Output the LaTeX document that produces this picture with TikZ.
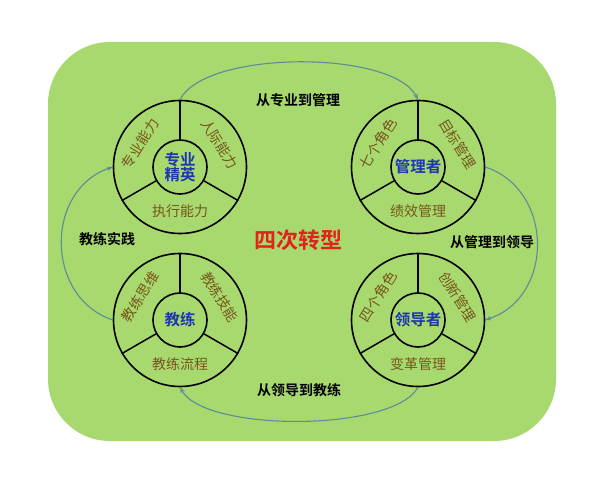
\documentclass[tikz,border=0pt]{standalone}
\usepackage{fontspec}
\setmainfont{Noto Sans CJK SC}[BoldFont={Noto Sans CJK SC Bold}]
\usetikzlibrary{arrows.meta}
\definecolor{panel}{HTML}{A8D96F}
\definecolor{coreblue}{HTML}{1F36B2}
\definecolor{partbrown}{HTML}{76561C}
\definecolor{arcblue}{HTML}{5E8C96}
\definecolor{turnred}{HTML}{E2231A}

\begin{document}
\begin{tikzpicture}[x=1pt,y=1pt,
ring/.style={circle,draw,line width=1.6pt,minimum size=133pt,inner sep=0pt},
core/.style={circle,draw,line width=1.6pt,minimum size=54pt,inner sep=0pt,
  align=center,text=coreblue,font=\bfseries\fontsize{15.5}{17}\selectfont},
sector/.style={text=partbrown,inner sep=0pt,font=\fontsize{14}{15}\selectfont},
divider/.style={line width=1.5pt},
turn/.style={draw=arcblue,line width=1.1pt,-{Stealth[length=6pt,width=4.5pt]}},
phase/.style={font=\bfseries\fontsize{14}{15}\selectfont}]
\useasboundingbox (0,0) rectangle (600,480);
\fill[panel,rounded corners=62pt] (48,39) rectangle (556,438);

% the four rings
\node[ring] (rzy) at (180,313) {};
\node[core] (zy) at (rzy.center) {专业\\[-2pt]精英};
\node[ring] (rgl) at (418,313) {};
\node[core] (gl) at (rgl.center) {管理者};
\node[ring] (rjl) at (180,160) {};
\node[core] (jl) at (rjl.center) {教练};
\node[ring] (rld) at (418,160) {};
\node[core] (ld) at (rld.center) {领导者};

\foreach \m in {zy,gl,jl,ld}
  \foreach \a in {90,210,330}
    \draw[divider] (\m.\a) -- (r\m.\a);

% sector texts
\node[sector,rotate=58] (zy1) at ([shift={(150:46)}]rzy.center) {专业能力};
\node[sector,rotate=-58] (zy2) at ([shift={(30:46)}]rzy.center) {人际能力};
\node[sector] (zy3) at ([shift={(270:44)}]rzy.center) {执行能力};
\node[sector,rotate=58] (gl1) at ([shift={(150:46)}]rgl.center) {七个角色};
\node[sector,rotate=-58] (gl2) at ([shift={(30:46)}]rgl.center) {目标管理};
\node[sector] (gl3) at ([shift={(270:44)}]rgl.center) {绩效管理};
\node[sector,rotate=58] (jl1) at ([shift={(150:46)}]rjl.center) {教练思维};
\node[sector,rotate=-58] (jl2) at ([shift={(30:46)}]rjl.center) {教练技能};
\node[sector] (jl3) at ([shift={(270:44)}]rjl.center) {教练流程};
\node[sector,rotate=58] (ld1) at ([shift={(150:46)}]rld.center) {四个角色};
\node[sector,rotate=-58] (ld2) at ([shift={(30:46)}]rld.center) {创新管理};
\node[sector] (ld3) at ([shift={(270:44)}]rld.center) {变革管理};

% transitions
\draw[turn] (rzy.north) .. controls +(25,50) and +(-25,50) .. (rgl.north);
\draw[turn] (rgl.east) .. controls +(69,-23) and +(69,23) .. (rld.east);
\draw[turn] (rld.south) .. controls +(-25,-45) and +(25,-45) .. (rjl.south);
\draw[turn] (rjl.west) .. controls +(-68,23) and +(-68,-23) .. (rzy.west);

\node[phase] (t1) at (298,380) {从专业到管理};
\node[phase] (t2) at (492,238) {从管理到领导};
\node[phase] (t3) at (299,90) {从领导到教练};
\node[phase] (t4) at (107,241) {教练实践};

\node[text=turnred,font=\bfseries\fontsize{22}{24}\selectfont] (mid) at (298,240) {四次转型};
\end{tikzpicture}
\end{document}
